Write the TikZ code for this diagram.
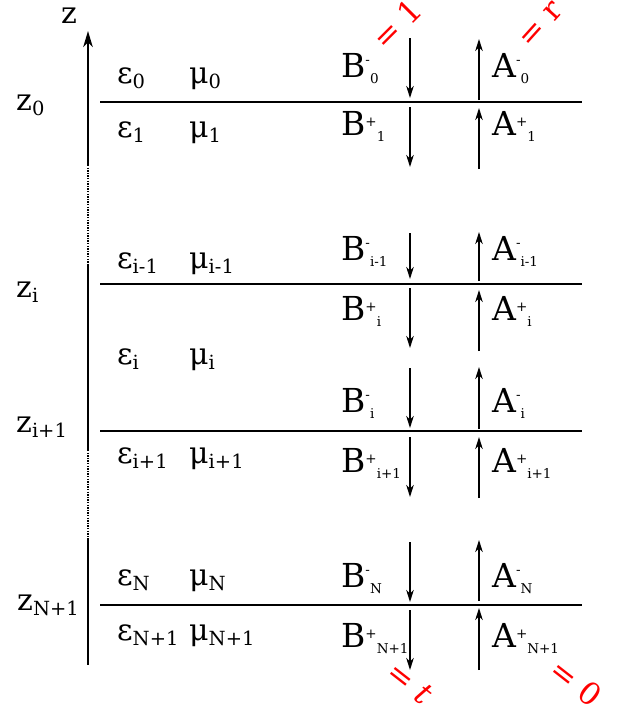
\documentclass[tikz,border=0pt]{standalone}
\usepackage{fontspec}
\setmainfont{DejaVu Serif}
\usetikzlibrary{arrows.meta}
% wave label: letter, superscript sign, subscript
\newcommand\smi{\raisebox{13pt}{-}}
\newcommand\spl{\raisebox{9pt}{+}}
\newcommand\wl[3]{{\fontsize{33}{33}\selectfont #1}{\fontsize{13.5}{13.5}\selectfont #2\raisebox{-6pt}{#3}}}
\newcommand\gl[2]{{\fontsize{30}{30}\selectfont #1}\raisebox{-5pt}{\fontsize{19.5}{19.5}\selectfont #2}}
\begin{document}
\begin{tikzpicture}[x=1pt,y=-1pt,
  lbl/.style={anchor=base west,inner sep=0pt},
  iface/.style={line width=1.6pt},
  wave/.style={line width=1.5pt,-{Stealth[length=12pt,width=7.5pt,inset=3.5pt]}},
  axis/.style={line width=2pt},
  axdot/.style={line width=1.6pt,dash pattern=on 1.3pt off 1.3pt},
  redl/.style={red,inner sep=0pt,font=\fontsize{31}{31}\selectfont}]
\useasboundingbox (0,0) rectangle (618,707);
% z axis
\coordinate (a0) at (88,31);
\coordinate (a1) at (88,165);
\coordinate (a2) at (88,265);
\coordinate (a3) at (88,450);
\coordinate (a4) at (88,538);
\coordinate (a5) at (88,665);
\draw[axis,-{Stealth[length=16pt,width=9.5pt,inset=4.5pt]}] (a1) -- (a0);
\draw[axdot] (a1) -- (a2);
\draw[axis] (a2) -- (a3);
\draw[axdot] (a3) -- (a4);
\draw[axis] (a4) -- (a5);
\node[lbl] (zlab) at (61,23) {\fontsize{30}{30}\selectfont z};
% interfaces
\foreach \n/\y in {0/102,i/284,j/431,N/605}{
  \coordinate (L\n w) at (100,\y);
  \coordinate (L\n e) at (582,\y);
  \draw[iface] (L\n w) -- (L\n e);
}
% z labels
\node[lbl] (z0) at (16,110) {\gl{z}{0}};
\node[lbl] (zi) at (16,297) {\gl{z}{i}};
\node[lbl] (zj) at (16,432) {\gl{z}{i+1}};
\node[lbl] (zN) at (17,610) {\gl{z}{N+1}};
% epsilon / mu
\node[lbl] (e0) at (117,83) {\gl{ε}{0}};
\node[lbl] (m0) at (189,83) {\gl{μ}{0}};
\node[lbl] (e1) at (117,137) {\gl{ε}{1}};
\node[lbl] (m1) at (189,137) {\gl{μ}{1}};
\node[lbl] (eim) at (117,268) {\gl{ε}{i-1}};
\node[lbl] (mim) at (189,268) {\gl{μ}{i-1}};
\node[lbl] (ei) at (117,364) {\gl{ε}{i}};
\node[lbl] (mi) at (189,364) {\gl{μ}{i}};
\node[lbl] (eip) at (117,463) {\gl{ε}{i+1}};
\node[lbl] (mip) at (189,463) {\gl{μ}{i+1}};
\node[lbl] (eN) at (117,585) {\gl{ε}{N}};
\node[lbl] (mN) at (189,585) {\gl{μ}{N}};
\node[lbl] (eNp) at (117,640) {\gl{ε}{N+1}};
\node[lbl] (mNp) at (189,640) {\gl{μ}{N+1}};
% B / A labels
\node[lbl] (B0) at (341,77) {\wl{B}{\smi}{0}};
\node[lbl] (A0) at (492,77) {\wl{A}{\smi}{0}};
\node[lbl] (B1) at (341,135) {\wl{B}{\spl}{1}};
\node[lbl] (A1) at (492,135) {\wl{A}{\spl}{1}};
\node[lbl] (Bim) at (341,260) {\wl{B}{\smi}{i-1}};
\node[lbl] (Aim) at (492,260) {\wl{A}{\smi}{i-1}};
\node[lbl] (Bip) at (341,320) {\wl{B}{\spl}{i}};
\node[lbl] (Aip) at (492,320) {\wl{A}{\spl}{i}};
\node[lbl] (Bim2) at (341,412) {\wl{B}{\smi}{i}};
\node[lbl] (Aim2) at (492,412) {\wl{A}{\smi}{i}};
\node[lbl] (Bpp) at (341,472) {\wl{B}{\spl}{i+1}};
\node[lbl] (App) at (492,472) {\wl{A}{\spl}{i+1}};
\node[lbl] (BN) at (341,587) {\wl{B}{\smi}{N}};
\node[lbl] (AN) at (492,587) {\wl{A}{\smi}{N}};
\node[lbl] (BNp) at (341,647) {\wl{B}{\spl}{N+1}};
\node[lbl] (ANp) at (492,647) {\wl{A}{\spl}{N+1}};
% down arrows (B) and up arrows (A)
\foreach \k/\s/\e in {1/38/98,2/107/167,3/233/279,4/288/348,5/368/428,6/437/497,7/542/602,8/610/670}{
  \coordinate (ds\k) at (410,\s);
  \coordinate (de\k) at (410,\e);
  \draw[wave] (ds\k) -- (de\k);
}
\foreach \k/\s/\e in {1/100/39,2/169/108,3/281/232,4/351/290,5/429/367,6/498/437,7/601/540,8/670/608}{
  \coordinate (us\k) at (479,\s);
  \coordinate (ue\k) at (479,\e);
  \draw[wave] (us\k) -- (ue\k);
}
% red values
\node[redl,rotate=45] (r1) at (397,24) {= 1};
\node[redl,rotate=48] (rr) at (541,25) {= r};
\node[redl,rotate=-38] (rt) at (410,683) {= \textit{t}};
\node[redl,rotate=-38] (r0) at (576,683) {= 0};
\end{tikzpicture}
\end{document}
